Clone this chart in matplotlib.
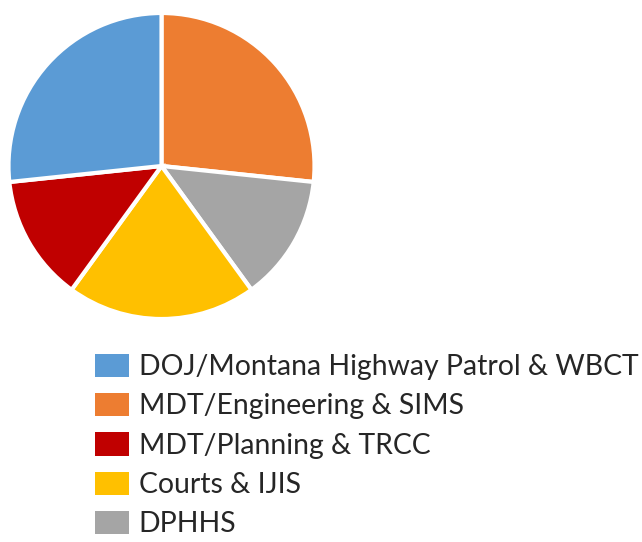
import matplotlib
matplotlib.use("Agg")
import matplotlib.pyplot as plt
from matplotlib.patches import Patch

labels = ["DOJ/Montana Highway Patrol & WBCT", "MDT/Engineering & SIMS",
          "MDT/Planning & TRCC", "Courts & IJIS", "DPHHS"]
values = [4, 4, 2, 3, 2]
colors = ["#5B9BD5", "#ED7D31", "#C00000", "#FFC000", "#A5A5A5"]

# drawing order clockwise from 12 o'clock
pie_order = [1, 4, 3, 2, 0]

W, H = 642, 542
fig = plt.figure(figsize=(W / 100, H / 100), dpi=100)
cx, cy, r = 161.5, 166, 153
ax = fig.add_axes([(cx - r) / W, (H - cy - r) / H, 2 * r / W, 2 * r / H])
ax.pie([values[i] for i in pie_order], colors=[colors[i] for i in pie_order],
       startangle=90, counterclock=False,
       wedgeprops=dict(edgecolor="white", linewidth=3))
ax.set_xlim(-1, 1)
ax.set_ylim(-1, 1)
ax.set_aspect("equal")
ax.axis("off")

handles = [Patch(facecolor=c, edgecolor="none") for c in colors]
leg = fig.legend(handles, labels, loc="upper left",
                 bbox_to_anchor=(89 / W, 1 - 348 / H),
                 frameon=False, prop=dict(family="Lato", size=20.4),
                 handlelength=1.2, handleheight=0.9, handletextpad=0.35,
                 labelspacing=0.45, borderaxespad=0, borderpad=0.2)
for t in leg.get_texts():
    t.set_color("#262626")

fig.savefig("out.png", dpi=100)
